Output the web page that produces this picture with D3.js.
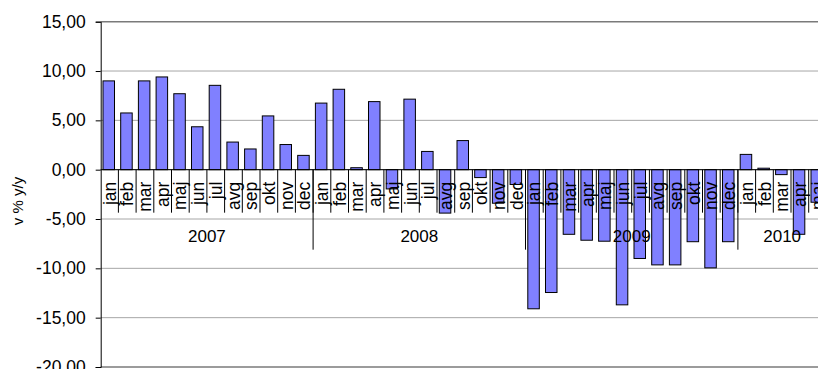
<!DOCTYPE html>
<html>
<head>
<meta charset="utf-8">
<script src="https://cdn.jsdelivr.net/npm/d3@7"></script>
<style>
  html, body { margin: 0; padding: 0; background: #fff; }
  svg { display: block; font-family: "Liberation Sans", Arial, sans-serif; }
</style>
</head>
<body>
<svg id="chart" width="818" height="369"></svg>
<script>
// Monthly year-on-year change, in %
const years = ["2007", "2008", "2009", "2010"];
const months = ["jan", "feb", "mar", "apr", "maj", "jun", "jul", "avg", "sep", "okt", "nov", "dec"];
const values2007 = [9.0, 5.75, 9.0, 9.4, 7.7, 4.35, 8.55, 2.8, 2.1, 5.45, 2.55, 1.45];
const values2008 = [6.75, 8.15, 0.2, 6.9, -1.95, 7.15, 1.85, -4.4, 2.95, -0.8, -3.4, -1.5];
const values2009 = [-14.1, -12.45, -6.55, -7.15, -7.25, -13.7, -9.0, -9.65, -9.65, -7.3, -9.95, -7.3];
const values2010 = [1.55, 0.15, -0.5, -6.55, -3.3];
const yTicks = [-20, -15, -10, -5, 0, 5, 10, 15];
const yTitle = "v % y/y";

const seriesByYear = [values2007, values2008, values2009, values2010];
const rows = [];
seriesByYear.forEach((vals, yi) => {
  vals.forEach((v, mi) => rows.push({ year: years[yi], month: months[mi], value: v, idx: rows.length }));
});

const svg = d3.select("#chart");
const left = 100.7, step = 17.7;
const x = d3.scaleBand()
  .domain(rows.map(d => d.idx))
  .range([left, left + rows.length * step])
  .paddingInner(0.35)
  .paddingOuter(0.175);
const y = d3.scaleLinear().domain([-20, 15]).range([367, 21.7]);
const plotRight = 818;

const locale = d3.formatLocale({ decimal: ",", thousands: ".", grouping: [3], currency: ["", ""], minus: "-" });
const fmt = locale.format(".2f");

// Gridlines
const grid = svg.append("g");
grid.selectAll("line").data(yTicks).join("line")
  .attr("x1", left).attr("x2", plotRight)
  .attr("y1", d => y(d)).attr("y2", d => y(d))
  .attr("stroke", d => (d === 15 || d === -20) ? "#7a7a7a" : "#a6a6a6")
  .attr("stroke-width", d => (d === 15 || d === -20) ? 1.5 : 1);

// Category boundaries (outer padding is half the inner padding, so edges fall on whole steps)
const boundary = i => x.range()[0] + i * x.step();

// Bars
svg.append("g").selectAll("rect").data(rows).join("rect")
  .attr("x", d => x(d.idx) - 0.8)
  .attr("width", x.bandwidth())
  .attr("y", d => y(Math.max(0, d.value)))
  .attr("height", d => Math.abs(y(d.value) - y(0)))
  .attr("fill", "#8080ff")
  .attr("stroke", "#000")
  .attr("stroke-width", 1);

// Y axis
const yAxis = svg.append("g")
  .attr("transform", `translate(${left},0)`)
  .call(d3.axisLeft(y).tickValues(yTicks).tickFormat(fmt).tickSize(5).tickPadding(10));
yAxis.select(".domain").attr("stroke", "#000");
yAxis.selectAll(".tick line").attr("stroke", "#000");
yAxis.selectAll(".tick text")
  .attr("font-size", 17.5).attr("fill", "#000")
  .attr("font-family", "'Liberation Sans', Arial, sans-serif");

// Category axis line at zero
const y0 = y(0);
svg.append("line")
  .attr("x1", left).attr("x2", plotRight)
  .attr("y1", y0).attr("y2", y0)
  .attr("stroke", "#000");

// Month tick marks
const catAxis = svg.append("g");
catAxis.selectAll("line.m").data(d3.range(1, rows.length)).join("line")
  .attr("class", "m")
  .attr("x1", i => boundary(i)).attr("x2", i => boundary(i))
  .attr("y1", y0).attr("y2", y0 + 43)
  .attr("stroke", "#000");

// Year separators
catAxis.selectAll("line.y").data([12, 24, 36]).join("line")
  .attr("class", "y")
  .attr("x1", i => boundary(i)).attr("x2", i => boundary(i))
  .attr("y1", y0).attr("y2", y0 + 80)
  .attr("stroke", "#000");

// Month labels
catAxis.selectAll("text.month").data(rows).join("text")
  .attr("class", "month")
  .attr("transform", d => `translate(${x(d.idx) + x.bandwidth() / 2},${y0 + 12}) rotate(-90)`)
  .attr("text-anchor", "end")
  .attr("dy", "0.35em")
  .attr("font-size", 17.5)
  .text(d => d.month);

// Year labels
const yearGroups = d3.groups(rows, d => d.year);
catAxis.selectAll("text.year").data(yearGroups).join("text")
  .attr("class", "year")
  .attr("x", ([, g]) => (boundary(g[0].idx) + boundary(g[g.length - 1].idx + 1)) / 2)
  .attr("y", y0 + 72)
  .attr("text-anchor", "middle")
  .attr("font-size", 17)
  .text(([yr]) => yr);

// Y title
svg.append("text")
  .attr("transform", `translate(18,${201}) rotate(-90)`)
  .attr("text-anchor", "middle")
  .attr("dy", "0.35em")
  .attr("font-size", 15)
  .text(yTitle);
</script>
</body>
</html>
